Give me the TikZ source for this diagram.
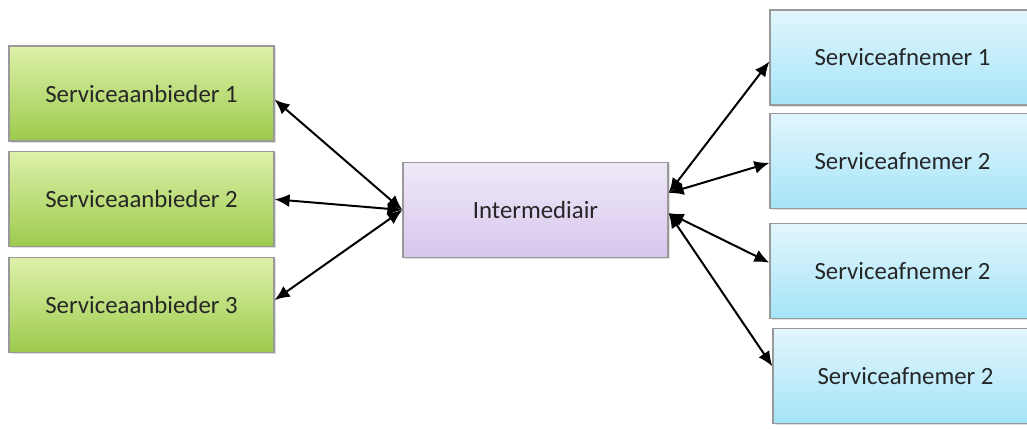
\documentclass[tikz,border=0pt]{standalone}
\usepackage{fontspec}
\setmainfont{Carlito}
\usetikzlibrary{positioning,arrows.meta,shadows}
\definecolor{anbiedertop}{RGB}{222,241,170}
\definecolor{anbiederbottom}{RGB}{156,202,76}
\definecolor{brokertop}{RGB}{240,233,249}
\definecolor{brokerbottom}{RGB}{214,198,236}
\definecolor{afnemertop}{RGB}{226,246,253}
\definecolor{afnemerbottom}{RGB}{165,228,248}
\tikzset{
>={Latex[length=7.5pt,width=6.5pt]},
  box/.style={
    rectangle,
    draw=black!40, line width=0.6pt,
    minimum width=132.5pt,
    minimum height=47.5pt,
    text=black!85,
    font=\fontsize{12.4}{15}\selectfont,
    drop shadow={opacity=0.25, shadow xshift=0.8pt, shadow yshift=-0.8pt}},
  anbieder/.style={box, top color=anbiedertop, bottom color=anbiederbottom},
  broker/.style={box, top color=brokertop, bottom color=brokerbottom},
  afnemer/.style={box, top color=afnemertop, bottom color=afnemerbottom},
  line/.style={draw, line width=1pt, <->},
}
\begin{document}
\begin{tikzpicture}[x=0.5pt,y=-0.5pt]
\useasboundingbox (0,0) rectangle (1027,428);

%Nodes
\node[anbieder]   (anbieder1)  at (141.5,93.5)       {Serviceaanbieder 1};
\node[anbieder]   (anbieder2)  [below=4.8pt of anbieder1] {Serviceaanbieder 2};
\node[anbieder]   (anbieder3)  [below=4.8pt of anbieder2] {Serviceaanbieder 3};
\node[broker]     (intermed)   at (535.5,210)        {Intermediair};
\node[afnemer]    (afnemer1)   at (902.5,57.5)       {Serviceafnemer 1};
\node[afnemer]    (afnemer2)   [below=3.6pt of afnemer1] {Serviceafnemer 2};
\node[afnemer]    (afnemer3)   [below=6.8pt of afnemer2] {Serviceafnemer 2};
\node[afnemer]    (afnemer4)   [below=4.7pt of afnemer3, xshift=1.5pt] {Serviceafnemer 2};

%Lines
\draw[line] (intermed.west) -- ([yshift=-3pt]anbieder1.east);
\draw[line] (intermed.west) -- (anbieder2.east);
\draw[line] (intermed.west) -- ([yshift=2.5pt]anbieder3.east);
\draw[line] ([yshift=8.5pt]intermed.east) -- ([yshift=-2pt]afnemer1.west);
\draw[line] ([yshift=8.5pt]intermed.east) -- ([yshift=-1pt]afnemer2.west);
\draw[line] ([yshift=-1.5pt]intermed.east) -- ([yshift=4pt]afnemer3.west);
\draw[line] ([yshift=-1.5pt]intermed.east) -- ([yshift=5pt]afnemer4.west);

\end{tikzpicture}
\end{document}
